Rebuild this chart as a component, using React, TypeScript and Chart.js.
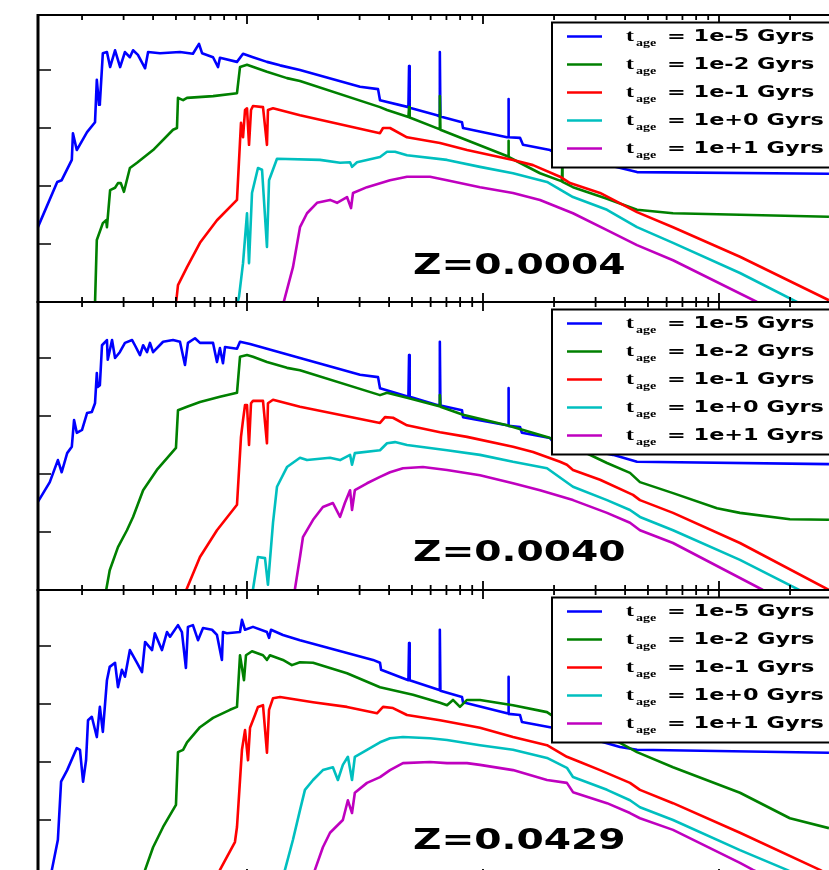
import React, { useEffect, useRef } from "react";
import { Chart, registerables } from "chart.js";

Chart.register(...registerables);

type Pt = [number, number];

// ---------- labels / categories ----------
const ageLabels = ["1e-5", "1e-2", "1e-1", "1e+0", "1e+1"];
const ageColors = ["#0000ff", "#008000", "#ff0000", "#00bfbf", "#bf00bf"];
const metallicities = ["0.0004", "0.0040", "0.0429"];
const xMajorTicks = [100, 1000, 10000, 100000];
const xMinorFactors = [2, 3, 4, 5, 6, 7, 8, 9];
const yTicks = [1, 2, 3, 4];

// ---------- data: [wavelength (A), log flux] ----------
// Z = 0.0004
const z1Age1e5: Pt[] = [[130,1.29],[157,2.07],[164,2.10],[181,2.45],[183,2.91],[190,2.62],[210,2.93],[227,3.10],[231,3.83],[236,3.40],[238,3.43],[245,4.29],[255,4.31],[263,4.05],[276,4.34],[290,4.05],[304,4.31],[319,4.22],[329,4.34],[345,4.26],[370,4.03],[381,4.31],[428,4.29],[520,4.31],[590,4.28],[626,4.45],[645,4.29],[718,4.22],[754,4.05],[768,4.21],[907,4.14],[962,4.28],[1060,4.22],[1215,4.14],[1380,4.08],[1677,4.0],[3012,3.71],[3591,3.67],[3661,3.48],[4830,3.36],[4861,4.07],[4890,3.35],[6386,3.22],[6530,3.20],[6563,4.31],[6600,3.20],[8147,3.10],[8228,3.0],[12640,2.84],[12780,2.84],[12818,3.50],[12860,2.84],[14350,2.83],[14770,2.71],[19230,2.62],[19800,2.59],[44930,2.24],[292400,2.21]];
const z1Age1e2: Pt[] = [[226,-0.3],[231,1.07],[245,1.36],[253,1.41],[255,1.29],[263,1.93],[276,1.97],[284,2.05],[292,2.05],[301,1.90],[319,2.31],[342,2.40],[400,2.62],[486,2.97],[505,3.0],[510,3.52],[536,3.48],[557,3.52],[718,3.55],[907,3.60],[934,4.05],[1000,4.09],[1215,3.97],[1477,3.86],[1677,3.81],[3661,3.36],[3920,3.31],[4830,3.19],[4861,3.36],[4890,3.18],[6530,2.98],[6563,3.55],[6600,2.97],[12780,2.51],[12818,2.78],[12860,2.50],[17440,2.22],[21600,2.08],[21661,2.33],[21720,2.07],[24060,1.98],[33530,1.78],[44930,1.59],[63860,1.53],[292400,1.47]];
const z1Age1e1: Pt[] = [[498,-0.1],[510,0.29],[557,0.60],[632,1.02],[746,1.41],[907,1.76],[943,3.09],[962,2.84],[981,3.31],[1000,3.34],[1020,2.71],[1040,3.31],[1060,3.38],[1169,3.36],[1215,2.71],[1227,3.31],[1289,3.34],[1677,3.22],[3661,2.91],[3770,3.0],[4036,3.0],[4764,2.84],[6575,2.74],[8555,2.62],[13400,2.45],[16290,2.36],[21200,2.16],[23370,2.05],[31330,1.88],[44930,1.55],[63860,1.29],[122700,0.78],[292400,0.03]];
const z1Age1e0: Pt[] = [[900,-0.1],[925,0.09],[962,0.67],[1000,1.53],[1020,0.67],[1050,1.88],[1113,2.31],[1158,2.28],[1215,0.95],[1240,2.10],[1340,2.47],[2039,2.45],[2479,2.40],[2733,2.41],[2786,2.33],[2925,2.41],[3661,2.50],[3920,2.59],[4238,2.59],[4764,2.53],[7039,2.45],[9711,2.33],[13400,2.22],[18670,2.07],[24060,1.81],[33530,1.59],[44930,1.29],[63860,1.02],[122700,0.50],[292400,-0.28]];
const z1Age1e10: Pt[] = [[1410,-0.1],[1566,0.60],[1677,1.29],[1796,1.53],[1980,1.71],[2248,1.76],[2407,1.71],[2653,1.81],[2759,1.62],[2813,1.88],[3225,1.98],[4036,2.10],[4764,2.16],[5964,2.16],[7039,2.10],[9711,1.98],[13400,1.88],[17440,1.76],[24060,1.53],[33530,1.24],[44930,0.98],[63860,0.72],[144900,0],[292400,-0.48]];

// Z = 0.0040
const z2Age1e5: Pt[] = [[130,1.52],[146,1.86],[158,2.24],[164,2.03],[173,2.36],[181,2.47],[185,2.93],[190,2.71],[200,2.76],[210,3.05],[220,3.07],[227,3.22],[231,3.74],[233,3.50],[238,3.53],[243,4.22],[255,4.31],[257,3.97],[268,4.31],[276,4.0],[289,4.10],[304,4.26],[326,4.31],[335,4.22],[352,4.05],[363,4.22],[377,4.10],[388,4.26],[400,4.10],[441,4.28],[486,4.31],[520,4.28],[546,3.88],[562,4.26],[602,4.34],[632,4.26],[718,4.26],[746,3.93],[768,4.17],[791,3.91],[807,4.19],[907,4.16],[934,4.28],[1030,4.24],[1215,4.16],[1677,4.0],[3012,3.71],[3591,3.67],[3661,3.48],[4830,3.33],[4861,4.05],[4890,3.33],[6386,3.19],[6530,3.19],[6563,4.28],[6600,3.18],[8147,3.10],[8228,2.98],[12640,2.84],[12780,2.84],[12818,3.48],[12860,2.83],[14350,2.81],[14620,2.71],[19230,2.62],[19800,2.55],[35550,2.33],[44930,2.21],[292400,2.17]];
const z2Age1e2: Pt[] = [[248,-0.2],[262,0.34],[284,0.74],[310,1.03],[329,1.26],[363,1.72],[415,2.07],[500,2.45],[510,3.10],[557,3.16],[632,3.24],[768,3.33],[907,3.40],[934,4.02],[1000,4.05],[1060,4.02],[1215,3.93],[1477,3.83],[1677,3.79],[3661,3.36],[3920,3.40],[4811,3.31],[6530,3.17],[6563,3.36],[6600,3.16],[8228,3.02],[12640,2.84],[18670,2.64],[19800,2.60],[24060,2.47],[33530,2.19],[41960,2.02],[46250,1.86],[63860,1.67],[98070,1.41],[122700,1.33],[199750,1.22],[292400,1.21]];
const z2Age1e1: Pt[] = [[540,-0.1],[632,0.57],[746,1.03],[907,1.47],[943,2.64],[962,2.93],[981,3.19],[1000,3.19],[1020,2.50],[1040,3.22],[1060,3.26],[1169,3.26],[1215,2.53],[1227,3.22],[1289,3.28],[1677,3.16],[3661,2.88],[3843,2.98],[4155,2.97],[4764,2.84],[6575,2.72],[8555,2.64],[13400,2.47],[16290,2.38],[21200,2.21],[22670,2.16],[24060,2.07],[31330,1.90],[43200,1.64],[46250,1.55],[63860,1.33],[122700,0.81],[292400,0]];
const z2Age1e0: Pt[] = [[1050,-0.1],[1113,0.57],[1192,0.55],[1227,0.09],[1289,1.16],[1340,1.78],[1477,2.12],[1677,2.28],[1796,2.24],[2248,2.28],[2479,2.24],[2733,2.33],[2786,2.16],[2864,2.36],[3661,2.41],[3920,2.53],[4238,2.55],[4764,2.50],[7039,2.41],[9711,2.33],[13400,2.21],[18670,2.10],[24060,1.78],[33530,1.55],[41960,1.38],[46250,1.26],[63860,1.03],[122700,0.52],[292400,-0.26]];
const z2Age1e10: Pt[] = [[1580,-0.1],[1677,0.57],[1726,0.91],[1905,1.21],[2097,1.43],[2312,1.50],[2479,1.26],[2598,1.50],[2733,1.72],[2786,1.38],[2864,1.72],[3225,1.84],[3661,1.95],[4036,2.03],[4580,2.10],[5566,2.12],[7039,2.07],[9711,1.98],[13400,1.84],[17440,1.72],[24060,1.55],[33530,1.33],[41960,1.16],[46250,1.03],[63860,0.81],[153500,0],[292400,-0.43]];

// Z = 0.0429
const z3Age1e5: Pt[] = [[145,-0.12],[149,0.14],[158,0.66],[163,1.66],[173,1.86],[190,2.24],[196,2.21],[202,1.66],[208,2.03],[212,2.72],[220,2.78],[231,2.43],[238,2.95],[245,2.52],[255,3.41],[262,3.64],[276,3.71],[284,3.29],[295,3.59],[304,3.47],[319,3.93],[342,3.71],[359,3.55],[370,4.07],[396,3.93],[407,4.22],[436,3.93],[458,4.24],[472,4.16],[510,4.36],[530,4.24],[551,3.62],[562,4.33],[590,4.36],[620,4.10],[651,4.31],[711,4.28],[746,4.19],[783,3.76],[791,4.24],[822,4.22],[934,4.24],[952,4.45],[981,4.28],[1060,4.33],[1215,4.24],[1240,4.14],[1264,4.28],[1420,4.19],[1677,4.10],[3419,3.76],[3661,3.71],[3700,3.59],[4830,3.41],[4861,4.05],[4890,3.41],[6530,3.24],[6563,4.28],[6600,3.23],[8147,3.12],[8228,3.03],[12640,2.84],[12780,2.84],[12818,3.47],[12860,2.83],[14350,2.81],[14620,2.69],[19230,2.60],[19800,2.59],[38060,2.26],[44930,2.21],[292400,2.16]];
const z3Age1e2: Pt[] = [[363,-0.12],[370,0.14],[400,0.53],[441,0.88],[500,1.26],[510,2.17],[536,2.21],[557,2.34],[632,2.60],[718,2.76],[847,2.90],[907,2.95],[934,3.84],[971,3.41],[990,3.84],[1050,3.91],[1169,3.84],[1215,3.76],[1251,3.84],[1420,3.76],[1550,3.67],[1677,3.72],[1905,3.71],[2653,3.53],[3661,3.29],[5049,3.16],[6575,3.02],[7039,2.98],[7461,3.07],[7987,2.95],[8555,3.07],[9711,3.07],[13400,2.98],[18670,2.86],[19800,2.79],[38060,2.33],[44930,2.17],[63860,1.91],[122700,1.47],[199750,1.03],[292400,0.86]];
const z3Age1e1: Pt[] = [[740,-0.1],[768,0.14],[889,0.62],[907,0.88],[952,2.21],[981,2.55],[1010,2.03],[1030,2.59],[1081,2.81],[1113,2.95],[1169,2.98],[1215,2.16],[1240,2.90],[1289,3.10],[1380,3.12],[1905,3.03],[2653,2.95],[3555,2.84],[3770,2.95],[4155,2.93],[4764,2.81],[6575,2.72],[9711,2.59],[13400,2.43],[18670,2.29],[22670,2.09],[25760,2.0],[31330,1.86],[41960,1.64],[46250,1.52],[63860,1.29],[122700,0.78],[267570,0.14],[292400,0.05]];
const z3Age1e0: Pt[] = [[1400,-0.15],[1448,0.14],[1566,0.66],[1677,1.17],[1760,1.52],[1905,1.69],[2097,1.86],[2312,1.91],[2427,1.69],[2548,1.95],[2676,2.09],[2786,1.69],[2864,2.09],[3225,2.21],[3661,2.34],[4036,2.41],[4580,2.43],[5964,2.41],[7039,2.38],[9711,2.29],[13400,2.21],[18670,2.07],[22670,1.90],[24060,1.74],[33530,1.52],[41960,1.34],[46250,1.22],[63860,1.0],[122700,0.48],[193970,0.14],[292400,-0.21]];
const z3Age1e10: Pt[] = [[1880,-0.15],[1940,0.14],[2097,0.53],[2248,0.78],[2548,1.0],[2676,1.34],[2786,1.12],[2864,1.47],[3225,1.64],[3661,1.74],[4036,1.86],[4580,1.98],[5964,2.0],[7039,1.98],[8555,1.98],[9711,1.95],[13400,1.86],[18670,1.69],[22670,1.64],[24060,1.48],[33530,1.29],[41960,1.12],[46250,1.03],[63860,0.83],[122700,0.26],[139290,0.14],[292400,-0.47]];

const panelSeries: Pt[][][] = [
  [z1Age1e5, z1Age1e2, z1Age1e1, z1Age1e0, z1Age1e10],
  [z2Age1e5, z2Age1e2, z2Age1e1, z2Age1e0, z2Age1e10],
  [z3Age1e5, z3Age1e2, z3Age1e1, z3Age1e0, z3Age1e10],
];

// ---------- layout ----------
const X_MIN = Math.pow(10, 2.11441);
const X_MAX = Math.pow(10, 5.4661);
const PAD = 10;
const PANELS = [
  { top: 15, height: 287 },
  { top: 302, height: 288 },
  { top: 590, height: 288 },
];
const PX_PER_DECADE_Y = 58;
const STRETCH = 1.4;
const LINE_W = 2.6;

function drawStretched(ctx: CanvasRenderingContext2D, text: string, x: number, y: number, font: string) {
  ctx.save();
  ctx.font = font;
  ctx.textBaseline = "alphabetic";
  ctx.textAlign = "left";
  ctx.translate(x, y);
  ctx.scale(STRETCH, 1);
  ctx.fillText(text, 0, 0);
  ctx.restore();
}

const decorPlugin = {
  id: "decor",
  afterDatasetsDraw(chart: any, _args: any, opts: any) {
    const { ctx, chartArea: a } = chart;
    const xs = chart.scales.x;
    const ys = chart.scales.y;
    ctx.save();
    ctx.strokeStyle = "#000";
    ctx.lineCap = "butt";

    // x ticks (inward, top and bottom)
    ctx.lineWidth = 1.8;
    for (const d of xMajorTicks) {
      const list = [{ v: d, L: 9 }, ...xMinorFactors.map((f) => ({ v: d * f, L: 5 }))];
      for (const t of list) {
        const p = xs.getPixelForValue(t.v);
        if (p < a.left + 1 || p > a.right) continue;
        ctx.beginPath();
        ctx.moveTo(p, a.top);
        ctx.lineTo(p, a.top + t.L);
        ctx.moveTo(p, a.bottom);
        ctx.lineTo(p, a.bottom - t.L);
        ctx.stroke();
      }
    }
    // y ticks
    ctx.lineWidth = 1.5;
    for (const t of yTicks) {
      const p = ys.getPixelForValue(t);
      ctx.beginPath();
      ctx.moveTo(a.left, p);
      ctx.lineTo(a.left + 13, p);
      ctx.stroke();
    }
    // spines
    ctx.lineWidth = 2;
    ctx.beginPath();
    ctx.moveTo(a.left, a.top);
    ctx.lineTo(a.right, a.top);
    ctx.moveTo(a.left, a.bottom);
    ctx.lineTo(a.right, a.bottom);
    ctx.stroke();
    ctx.lineWidth = 3;
    ctx.beginPath();
    ctx.moveTo(a.left, a.top - 1);
    ctx.lineTo(a.left, a.bottom + 1);
    ctx.stroke();

    // legend
    const lx = 552;
    const ly = a.top + 7.5;
    const lw = a.right + 20 - lx;
    const lh = 145;
    ctx.fillStyle = "#fff";
    ctx.fillRect(lx, ly, lw, lh);
    ctx.strokeStyle = "#000";
    ctx.lineWidth = 2;
    ctx.strokeRect(lx, ly, lw, lh);
    chart.data.datasets.forEach((ds: any, i: number) => {
      const ry = a.top + 21.5 + 28 * i;
      ctx.strokeStyle = ds.borderColor;
      ctx.lineWidth = LINE_W;
      ctx.beginPath();
      ctx.moveTo(567, ry);
      ctx.lineTo(602, ry);
      ctx.stroke();
      ctx.fillStyle = "#000";
      drawStretched(ctx, "t", 626, ry + 4.5, 'bold 17px "Liberation Serif"');
      drawStretched(ctx, "age", 636, ry + 9, 'bold 10px "Liberation Serif"');
      drawStretched(ctx, `= ${ds.label} Gyrs`, 667, ry + 4.5, 'bold 16px "DejaVu Sans"');
    });

    // metallicity label
    ctx.fillStyle = "#000";
    drawStretched(ctx, `Z=${opts.zLabel}`, 413, a.top + 259, 'bold 28px "DejaVu Sans"');
    ctx.restore();
  },
};

function Panel({ index }: { index: number }) {
  const ref = useRef<HTMLCanvasElement | null>(null);
  const { top, height } = PANELS[index];
  useEffect(() => {
    const canvas = ref.current;
    if (!canvas) return;
    const chart = new Chart(canvas, {
      type: "line",
      data: {
        datasets: panelSeries[index].map((s, i) => ({
          label: ageLabels[i],
          data: s.map(([x, y]) => ({ x, y })),
          borderColor: ageColors[i],
          backgroundColor: ageColors[i],
          borderWidth: LINE_W,
          borderJoinStyle: "round",
          pointRadius: 0,
          tension: 0,
          fill: false,
          order: 5 - i,
        })),
      },
      options: {
        animation: false,
        responsive: false,
        maintainAspectRatio: false,
        events: [],
        layout: { padding: { left: 38, right: 0, top: PAD, bottom: PAD } },
        scales: {
          x: { type: "logarithmic", min: X_MIN, max: X_MAX, display: false },
          y: { type: "linear", min: 0, max: height / PX_PER_DECADE_Y, display: false },
        },
        plugins: {
          legend: { display: false },
          tooltip: { enabled: false },
          decor: { zLabel: metallicities[index] },
        } as any,
      },
      plugins: [decorPlugin as any],
    });
    return () => chart.destroy();
  }, [index]);
  return (
    <canvas
      ref={ref}
      width={829}
      height={height + 2 * PAD}
      style={{ position: "absolute", left: 0, top: top - PAD, display: "block" }}
    />
  );
}

export default function App() {
  return (
    <div
      style={{
        position: "absolute",
        left: 0,
        top: 0,
        width: 829,
        height: 870,
        overflow: "hidden",
        background: "#fff",
      }}
    >
      <Panel index={0} />
      <Panel index={1} />
      <Panel index={2} />
    </div>
  );
}
